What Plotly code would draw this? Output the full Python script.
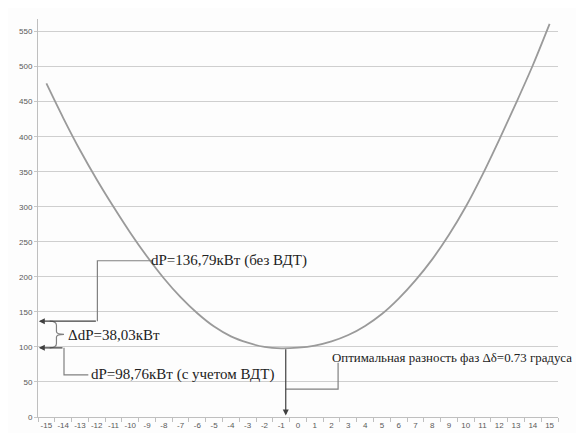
import plotly.graph_objects as go

# Data
x_vals = list(range(-15, 16))
dp_vals = [476, 427, 381, 339, 300, 263, 229, 198, 171, 148, 129, 115, 106, 100, 98,
           99, 102, 108, 117, 130, 147, 169, 195, 225, 260, 300, 346, 396, 448, 502, 561]
x_ticklabels = [str(v) for v in x_vals]
y_ticks = list(range(0, 551, 50))

dp_without = 136.79
dp_with = 98.76
opt_phase = -0.73

label_without = "dP=136,79кВт (без ВДТ)"
label_with = "dP=98,76кВт (с учетом ВДТ)"
label_delta = "ΔdP=38,03кВт"
label_opt = "Оптимальная разность фаз Δδ=0.73 градуса"

line_c = "#808080"
arrow_c = "#404040"
serif = "Liberation Serif"
text_font = dict(family=serif, size=15, color="#222222")

fig = go.Figure()
fig.add_trace(go.Scatter(
    x=x_vals, y=dp_vals, mode="lines",
    line=dict(color="#9a9a9a", width=1.8, shape="spline", smoothing=0.9),
    hoverinfo="skip", showlegend=False))

shapes = []
shapes.append(dict(type="path", xref="x", yref="y",
                   path=f"M -8.65,223 L -11.96,223 L -11.96,{dp_without}",
                   line=dict(color=line_c, width=1.2)))
shapes.append(dict(type="path", xref="x", yref="y",
                   path=f"M -13.95,{dp_with} L -13.95,60 L -12.5,60",
                   line=dict(color=line_c, width=1.2)))
ym = 118
shapes.append(dict(type="path", xref="x", yref="y",
                   path=(f"M -14.8,{dp_without} Q -14.4,{dp_without} -14.4,{dp_without-6} "
                         f"L -14.4,{ym+4} Q -14.4,{ym} -13.95,{ym} "
                         f"Q -14.4,{ym} -14.4,{ym-4} L -14.4,{dp_with+6} "
                         f"Q -14.4,{dp_with} -14.8,{dp_with}"),
                   line=dict(color=line_c, width=1.2)))
shapes.append(dict(type="path", xref="x", yref="y",
                   path=f"M {opt_phase},39.7 L 2.39,39.7 L 2.39,77.4",
                   line=dict(color=line_c, width=1.2)))

annotations = []
annotations.append(dict(x=-15.45, y=dp_without, ax=-11.96, ay=dp_without,
                        xref="x", yref="y", axref="x", ayref="y", text="",
                        showarrow=True, arrowhead=2, arrowsize=1, arrowwidth=1.2,
                        arrowcolor=arrow_c))
annotations.append(dict(x=-15.45, y=dp_with, ax=-13.95, ay=dp_with,
                        xref="x", yref="y", axref="x", ayref="y", text="",
                        showarrow=True, arrowhead=2, arrowsize=1, arrowwidth=1.2,
                        arrowcolor=arrow_c))
annotations.append(dict(x=opt_phase, y=2, ax=opt_phase, ay=dp_with,
                        xref="x", yref="y", axref="x", ayref="y", text="",
                        showarrow=True, arrowhead=2, arrowsize=1, arrowwidth=1.2,
                        arrowcolor=arrow_c))
annotations.append(dict(x=-8.8, y=223, xref="x", yref="y", text=label_without,
                        showarrow=False, xanchor="left", yanchor="middle",
                        borderpad=0, font=text_font))
annotations.append(dict(x=-12.42, y=60, xref="x", yref="y", text=label_with,
                        showarrow=False, xanchor="left", yanchor="middle",
                        borderpad=0, font=text_font))
annotations.append(dict(x=-13.78, y=116.5, xref="x", yref="y", text=label_delta,
                        showarrow=False, xanchor="left", yanchor="middle",
                        borderpad=0, font=text_font))
annotations.append(dict(x=1.95, y=84, xref="x", yref="y", text=label_opt,
                        showarrow=False, xanchor="left", yanchor="middle",
                        borderpad=0, font=dict(family=serif, size=12.9, color="#222222")))

tick_font = dict(family="Liberation Sans", size=8, color="#595959")

fig.update_layout(
    width=584, height=433,
    margin=dict(l=30, r=34, t=11, b=15),
    paper_bgcolor="#fdfdfd", plot_bgcolor="#fdfdfd",
    showlegend=False,
    shapes=shapes, annotations=annotations,
    xaxis=dict(range=[-15.5, 15.5], tickmode="array", tickvals=x_vals,
               ticktext=x_ticklabels, ticks="", showgrid=False, zeroline=False,
               showline=True, linecolor="#bfbfbf", linewidth=1,
               tickfont=tick_font, ticklabelstandoff=0,
               minor=dict(tickmode="array", tickvals=[v + 0.5 for v in [-16] + x_vals],
                          ticks="outside", ticklen=4, tickcolor="#bfbfbf", showgrid=False),
               fixedrange=True),
    yaxis=dict(range=[0, 568], tickmode="array", tickvals=y_ticks,
               ticks="outside", ticklen=3, tickcolor="#c8c8c8",
               showgrid=True, gridcolor="#cfcfcf", gridwidth=1, zeroline=False,
               showline=True, linecolor="#bfbfbf", linewidth=1,
               tickfont=tick_font, fixedrange=True),
)

fig.write_html("out.html")
